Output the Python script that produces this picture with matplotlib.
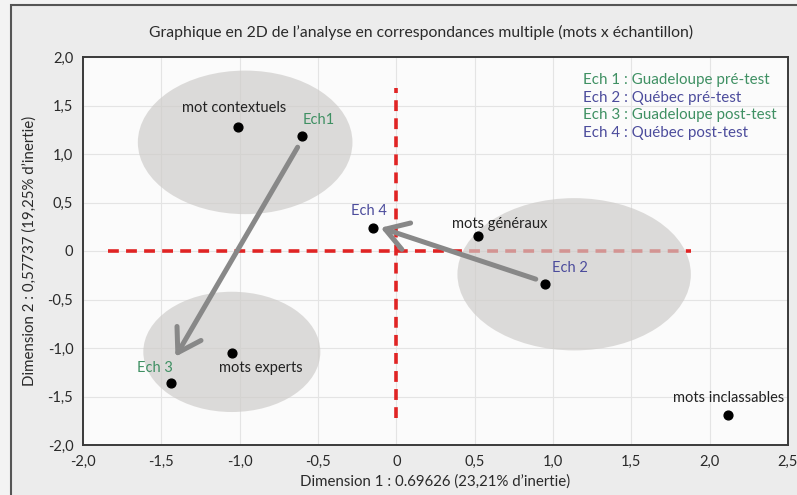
import matplotlib
matplotlib.use("Agg")
import matplotlib.pyplot as plt
from matplotlib.patches import Ellipse, Rectangle

plt.rcParams['font.family'] = ['Lato', 'DejaVu Sans']

# ==================== données ====================

point_names = ["mot contextuels", "Ech1", "Ech 4", "mots généraux",
               "Ech 2", "Ech 3", "mots experts", "mots inclassables"]
point_x = [-1.01, -0.60, -0.15, 0.52, 0.95, -1.44, -1.05, 2.12]
point_y = [1.28, 1.19, 0.24, 0.155, -0.34, -1.36, -1.05, -1.69]

# ellipses : centre x, centre y, largeur, hauteur
ell_cx = [-0.965, -1.05, 1.135]
ell_cy = [1.12, -1.04, -0.24]
ell_w = [1.37, 1.13, 1.49]
ell_h = [1.48, 1.24, 1.57]

# flèches : Ech1 -> Ech 3, Ech 2 -> Ech 4
arrow_from = [(-0.63, 1.07), (0.89, -0.29)]
arrow_to = [(-1.41, -1.09), (-0.10, 0.24)]

# axes de référence en pointillés
hline_x = [-1.84, 1.88]
vline_y = [-1.72, 1.68]

legend_lines = ["Ech 1 : Guadeloupe pré-test", "Ech 2 : Québec pré-test",
                "Ech 3 : Guadeloupe post-test", "Ech 4 : Québec post-test"]

xticks = [-2.0, -1.5, -1.0, -0.5, 0, 0.5, 1.0, 1.5, 2.0, 2.5]
yticks = [-2.0, -1.5, -1.0, -0.5, 0, 0.5, 1.0, 1.5, 2.0]

GREEN = "#3f9063"
BLUE = "#4c4c9c"
TXT = "#222222"

# couleur et décalage (pixels) de chaque étiquette
label_color = [TXT, GREEN, BLUE, TXT, BLUE, GREEN, TXT, TXT]
label_offset = [(-4, 19), (16, 16), (-4, 17), (22, 12),
                (25, 16), (-16, 15), (29, -15), (0, 17)]


def fmt(v):
    if v == 0:
        return "0"
    return f"{v:.1f}".replace(".", ",")


# ==================== figure ====================

fig = plt.figure(figsize=(7.97, 4.95), dpi=100, facecolor="#f3f3f3")
fig.patches.append(Rectangle((11 / 797, -0.1), 1.2, 1.1 - 5 / 495,
                             transform=fig.transFigure, facecolor="#ececec",
                             edgecolor="#555555", linewidth=1.5, zorder=-10))

ax = fig.add_axes([83 / 797, 50 / 495, 705 / 797, 388 / 495])
ax.set_facecolor("#fbfbfb")
ax.set_xlim(-2.0, 2.5)
ax.set_ylim(-2.0, 2.0)
ax.set_xticks(xticks)
ax.set_yticks(yticks)
ax.set_xticklabels([fmt(v) for v in xticks])
ax.set_yticklabels([fmt(v) for v in yticks])
ax.tick_params(length=0, labelsize=10.5, colors="#2a2a2a", pad=7)
ax.grid(True, color="#e4e4e4", linewidth=0.8)
ax.set_axisbelow(True)
for s in ax.spines.values():
    s.set_color("#3a3a3a")
    s.set_linewidth(1.4)

# lignes de référence
ax.plot(hline_x, [0, 0], color="#e02424", linewidth=2.6, dashes=(3, 2), zorder=1)
ax.plot([0, 0], vline_y, color="#e02424", linewidth=2.6, dashes=(3, 2), zorder=1)

# ellipses
for cx, cy, w, h in zip(ell_cx, ell_cy, ell_w, ell_h):
    ax.add_patch(Ellipse((cx, cy), w, h, facecolor="#cdcbc9", alpha=0.68,
                         edgecolor="none", zorder=2))

# flèches
for (x0, y0), (x1, y1) in zip(arrow_from, arrow_to):
    ax.annotate("", xy=(x1, y1), xytext=(x0, y0),
                arrowprops=dict(arrowstyle="->,head_length=0.8,head_width=0.5",
                                color="#888888", lw=3.6, mutation_scale=20,
                                shrinkA=0, shrinkB=0),
                zorder=3)

# points et étiquettes
ax.scatter(point_x, point_y, s=40, color="black", zorder=4)
for name, x, y, c, off in zip(point_names, point_x, point_y, label_color, label_offset):
    ax.annotate(name, (x, y), xytext=off, textcoords="offset pixels",
                ha="center", va="center", fontsize=10.5, color=c, zorder=5)

# légende texte
for i, line in enumerate(legend_lines):
    fig.text(583 / 797, 1 - (80 + 17.7 * i) / 495, line, fontsize=10.9,
             color=GREEN if i % 2 == 0 else BLUE, va="center", ha="left")

fig.text(421 / 797, 1 - 32 / 495,
         "Graphique en 2D de l’analyse en correspondances multiple (mots x échantillon)",
         ha="center", va="center", fontsize=11.3, color="#2a2a2a")
ax.set_xlabel("Dimension 1 : 0.69626 (23,21% d’inertie)", fontsize=10.8,
              color="#2a2a2a", labelpad=4)
ax.set_ylabel("Dimension 2 : 0,57737 (19,25% d’inertie)", fontsize=10.8,
              color="#2a2a2a", labelpad=8)

plt.savefig("out.png", dpi=100, facecolor=fig.get_facecolor())
